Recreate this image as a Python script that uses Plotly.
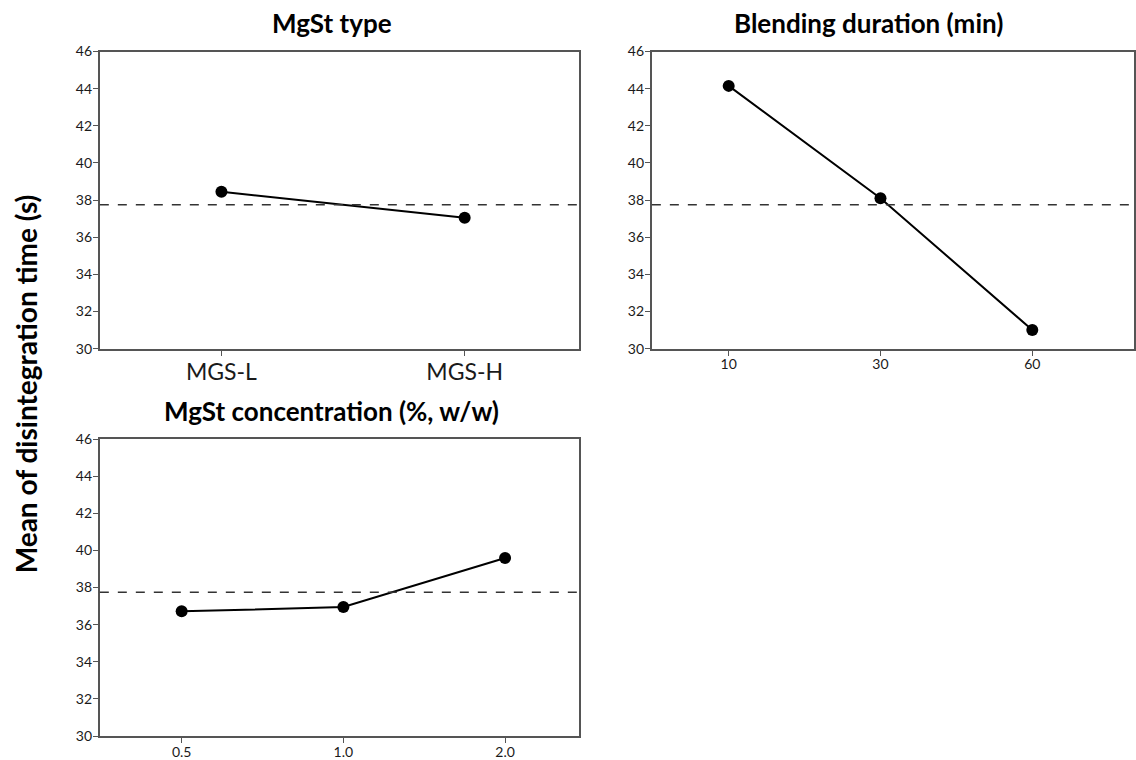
import plotly.graph_objects as go

# Data
type_levels = ["MGS-L", "MGS-H"]
type_means = [38.45, 37.05]
blend_levels = ["10", "30", "60"]
blend_means = [44.15, 38.10, 31.00]
conc_levels = ["0.5", "1.0", "2.0"]
conc_means = [36.72, 36.95, 39.59]
y_ticks = [30, 32, 34, 36, 38, 40, 42, 44, 46]
panel_titles = ["MgSt type", "Blending duration (min)", "MgSt concentration (%, w/w)"]
y_title = "Mean of disintegration time (s)"

grand_mean = sum(blend_means) / len(blend_means)

W, H = 1136, 760
FONT = "Lato"
AXCOL = "#555555"
TXT = "#1a1a1a"

fig = go.Figure()


def vy(t):
    # compensate the vertical squeeze observed in the rendered page
    return (t - 8.2) / 0.972


def px_x(a, b):
    return [a / W, b / W]


def px_y(top, bottom):
    return [max(0.0, 1 - vy(bottom) / H), min(1.0, 1 - vy(top) / H)]


panels = [
    dict(cats=type_levels, vals=type_means, xd=px_x(100, 580), yd=px_y(51, 350),
         xr=[-0.5, 1.47], tsize=23, title=panel_titles[0], tx=333, ty=22),
    dict(cats=blend_levels, vals=blend_means, xd=px_x(653, 1136), yd=px_y(51, 350),
         xr=[-0.506, 2.67], tsize=14, title=panel_titles[1], tx=870, ty=22),
    dict(cats=conc_levels, vals=conc_means, xd=px_x(100, 580), yd=px_y(441, 740),
         xr=[-0.506, 2.457], tsize=14, title=panel_titles[2], tx=332, ty=413),
]

for i, p in enumerate(panels):
    n = "" if i == 0 else str(i + 1)
    xa = "x" + n
    ya = "y" + n
    fig.add_trace(go.Scatter(
        x=p["cats"], y=p["vals"], xaxis=xa, yaxis=ya, mode="lines+markers",
        line=dict(color="black", width=2),
        marker=dict(color="black", size=12),
        showlegend=False, hoverinfo="x+y"))
    fig.update_layout(**{
        "xaxis" + n: dict(domain=p["xd"], anchor=ya, type="category", range=p["xr"],
                          showline=True, linecolor=AXCOL, linewidth=2, mirror=True,
                          ticks="outside", ticklen=5, tickcolor=AXCOL, showgrid=False,
                          zeroline=False, ticklabelstandoff=-3,
                          tickfont=dict(family=FONT, size=p["tsize"], color=TXT)),
        "yaxis" + n: dict(domain=p["yd"], anchor=xa, range=[30, 46], tickvals=y_ticks,
                          showline=True, linecolor=AXCOL, linewidth=2, mirror=True,
                          ticks="outside", ticklen=5, tickcolor=AXCOL, showgrid=False,
                          zeroline=False, ticklabelstandoff=-2,
                          tickfont=dict(family=FONT, size=14, color=TXT)),
    })
    fig.add_shape(type="line", xref=xa + " domain", yref=ya, x0=0, x1=1,
                  y0=grand_mean, y1=grand_mean,
                  line=dict(color="#333333", width=1.5, dash="dash"))
    fig.add_annotation(text="<b>" + p["title"] + "</b>", xref="paper", yref="paper",
                       x=p["tx"] / W, y=1 - vy(p["ty"]) / H, showarrow=False,
                       xanchor="center", yanchor="middle",
                       font=dict(family=FONT, size=26, color="black"))

fig.add_annotation(text="<b>" + y_title + "</b>", xref="paper", yref="paper",
                   x=26 / W, y=1 - vy(385) / H, showarrow=False, textangle=-90,
                   xanchor="center", yanchor="middle",
                   font=dict(family=FONT, size=28, color="black"))

fig.update_layout(width=W, height=H, margin=dict(l=0, r=0, t=0, b=0),
                  paper_bgcolor="white", plot_bgcolor="white")

fig.write_html("out.html")
